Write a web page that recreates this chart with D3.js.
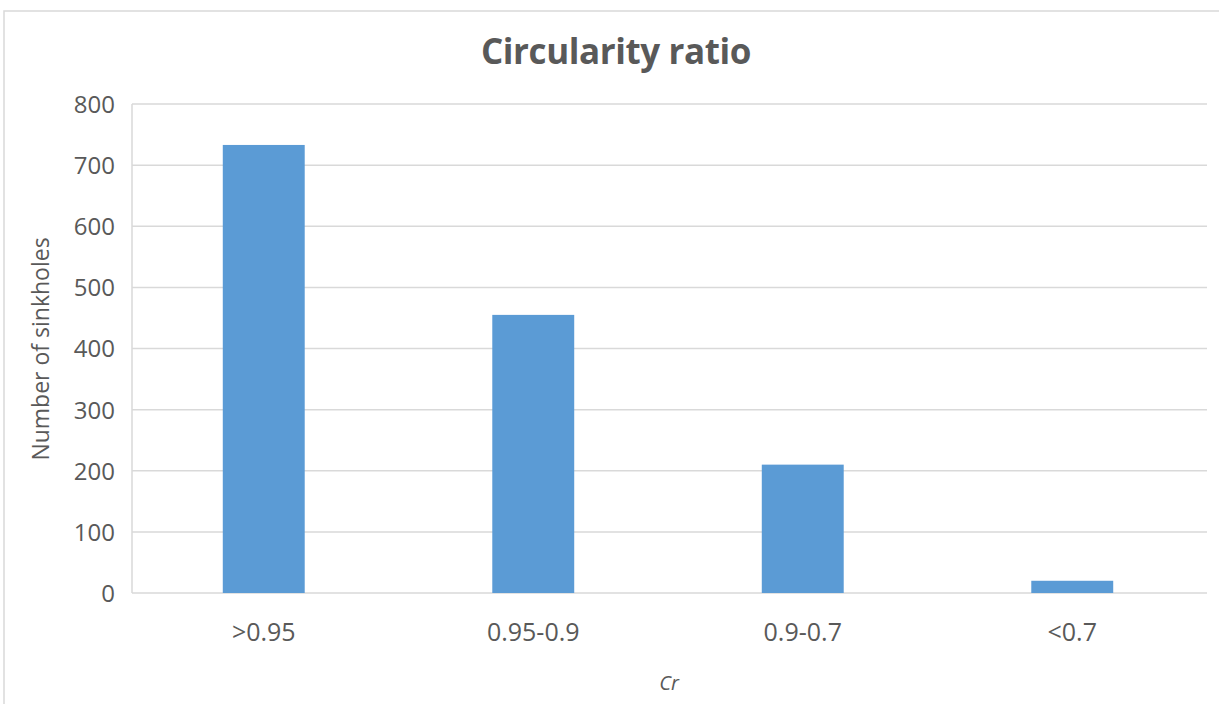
<!DOCTYPE html>
<html>
<head>
<meta charset="utf-8">
<script src="https://cdn.jsdelivr.net/npm/d3@7"></script>
<style>
  body { margin: 0; background: #fff; }
  text { font-family: "Open Sans", "Noto Sans", sans-serif; fill: #595959; }
</style>
</head>
<body>
<svg id="chart" width="1219" height="704"></svg>
<script>
// data
const categories = ['>0.95', '0.95-0.9', '0.9-0.7', '<0.7']
const counts = [733, 455, 210, 20]
const yTicks = [0, 100, 200, 300, 400, 500, 600, 700, 800]

let svg = d3.select('#chart')
let margin = {left: 132, right: 12, top: 104, bottom: 111}
let width = 1219 - margin.left - margin.right
let height = 704 - margin.top - margin.bottom

// chart border
svg.append('rect')
    .attr('x', 4).attr('y', 11).attr('width', 1230).attr('height', 720)
    .attr('fill', 'none').attr('stroke', '#d9d9d9').attr('stroke-width', 1.5)

let g = svg.append('g').attr('transform', 'translate(' + margin.left + ',' + margin.top + ')')

let xScale = d3.scaleBand().domain(categories).range([-3, width]).paddingInner(0.696).paddingOuter(0.348)
let yScale = d3.scaleLinear().domain([0, 800]).range([height, 0])

// gridlines
g.append('g').selectAll('line').data(yTicks).join('line')
    .attr('x1', 0).attr('x2', width)
    .attr('y1', d => yScale(d)).attr('y2', d => yScale(d))
    .attr('stroke', '#d9d9d9').attr('stroke-width', 1.5)
g.append('line').attr('x1', 0).attr('x2', 0).attr('y1', 0).attr('y2', height)
    .attr('stroke', '#d9d9d9').attr('stroke-width', 1.5)

// bars
g.append('g').selectAll('rect').data(counts).join('rect')
    .attr('x', (d, i) => xScale(categories[i]))
    .attr('y', d => yScale(d))
    .attr('width', xScale.bandwidth())
    .attr('height', d => height - yScale(d))
    .attr('fill', '#5b9bd5')

// y axis
let yAxis = g.append('g').call(d3.axisLeft(yScale).tickValues(yTicks).tickSize(0).tickPadding(17))
yAxis.select('.domain').remove()
yAxis.selectAll('text').style('font-size', '24px').attr('fill', '#595959').attr('dy', '0.35em')
    .style('font-family', '"Open Sans", sans-serif')

// x axis
let xAxis = g.append('g').attr('transform', 'translate(0,' + height + ')')
    .call(d3.axisBottom(xScale).tickSize(0).tickPadding(30))
xAxis.select('.domain').remove()
xAxis.selectAll('text').style('font-size', '25px').attr('fill', '#595959')
    .style('font-family', '"Open Sans", sans-serif')

// title
svg.append('text').attr('x', 616).attr('y', 64).attr('text-anchor', 'middle')
    .attr('font-weight', 700).style('font-size', '35px').style('letter-spacing', '-0.4px')
    .text('Circularity ratio')

// axis titles
svg.append('text').attr('transform', 'translate(49,349) rotate(-90)').attr('text-anchor', 'middle')
    .style('font-size', '23px').text('Number of sinkholes')
svg.append('text').attr('x', 669).attr('y', 690).attr('text-anchor', 'middle')
    .attr('font-style', 'italic').style('font-size', '20px').text('Cr')
</script>
</body>
</html>
